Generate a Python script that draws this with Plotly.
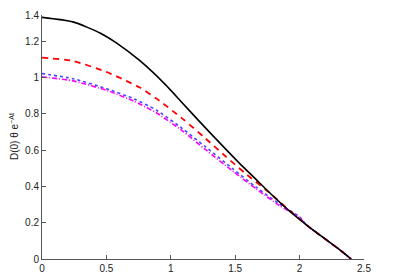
import plotly.graph_objects as go

# Data
x_black = [0, 0.24, 0.45, 0.58, 0.76, 0.96, 1.09, 1.22, 1.38, 1.53, 1.66, 1.79, 1.92, 2.05, 2.18, 2.30, 2.40]
y_black = [1.332, 1.307, 1.246, 1.19, 1.093, 0.96, 0.86, 0.76, 0.64, 0.53, 0.44, 0.35, 0.265, 0.19, 0.12, 0.057, 0.0]

x_red = [0, 0.24, 0.50, 0.655, 0.76, 0.89, 1.09, 1.27, 1.43, 1.58, 1.76, 1.92, 2.05, 2.18, 2.30, 2.40]
y_red = [1.110, 1.092, 1.031, 0.982, 0.945, 0.884, 0.774, 0.664, 0.563, 0.471, 0.369, 0.268, 0.19, 0.12, 0.057, 0.0]

x_col = [0, 0.24, 0.50, 0.71, 0.89, 1.09, 1.27, 1.48, 1.66, 1.84, 2.0, 2.05, 2.18, 2.30, 2.40]
y_blue = [1.022, 0.994, 0.939, 0.884, 0.82, 0.719, 0.618, 0.498, 0.397, 0.305, 0.232, 0.19, 0.12, 0.057, 0.0]
y_mag = [1.004, 0.982, 0.930, 0.871, 0.805, 0.706, 0.603, 0.485, 0.388, 0.296, 0.228, 0.188, 0.12, 0.057, 0.0]

x_ticks = [0, 0.5, 1, 1.5, 2, 2.5]
x_tick_text = ["0", "0.5", "1", "1.5", "2", "2.5"]
y_ticks = [0, 0.2, 0.4, 0.6, 0.8, 1.0, 1.2, 1.345]
y_tick_text = ["0", "0.2", "0.4", "0.6", "0.8", "1", "1.2", "1.4"]

fig = go.Figure()
fig.add_trace(go.Scatter(x=x_col, y=y_blue, mode="lines", line_shape="spline",
                         line=dict(color="#4646ff", width=1.6, dash="dot", smoothing=0.6)))
fig.add_trace(go.Scatter(x=x_col, y=y_mag, mode="lines", line_shape="spline",
                         line=dict(color="#ff00ff", width=1.6, dash="5px,2px,1px,2px", smoothing=0.6)))
fig.add_trace(go.Scatter(x=x_red, y=y_red, mode="lines", line_shape="spline",
                         line=dict(color="#ff0000", width=1.8, dash="6px,5px", smoothing=0.6)))
fig.add_trace(go.Scatter(x=x_black, y=y_black, mode="lines", line_shape="spline",
                         line=dict(color="#000000", width=1.6, smoothing=0.6)))

axis_font = dict(family="Liberation Sans, Arial, sans-serif", size=10, color="#222")
fig.update_layout(
    width=393, height=274,
    margin=dict(l=42, r=29, t=15, b=15, autoexpand=False),
    paper_bgcolor="white", plot_bgcolor="white",
    showlegend=False,
    xaxis=dict(range=[0, 2.5], tickvals=x_ticks, ticktext=x_tick_text,
               showgrid=False, zeroline=False, showline=True, linecolor="#555",
               linewidth=1, ticks="inside", ticklen=4, tickcolor="#555",
               tickfont=axis_font, automargin=False, ticklabelstandoff=0),
    yaxis=dict(range=[0, 1.345], tickvals=y_ticks, ticktext=y_tick_text,
               showgrid=False, zeroline=False, showline=True, linecolor="#555",
               linewidth=1, ticks="inside", ticklen=4, tickcolor="#555",
               tickfont=axis_font, automargin=False),
    annotations=[dict(text="D(0) θ e<sup>−At</sup>", xref="paper", yref="paper",
                      x=-36 / 322, y=0.5, showarrow=False, textangle=-90,
                      font=dict(family="Liberation Sans, Arial, sans-serif", size=10, color="#222"))],
)
fig.write_html("out.html", config={"displayModeBar": False},
               post_script="document.body.style.margin='0';")
